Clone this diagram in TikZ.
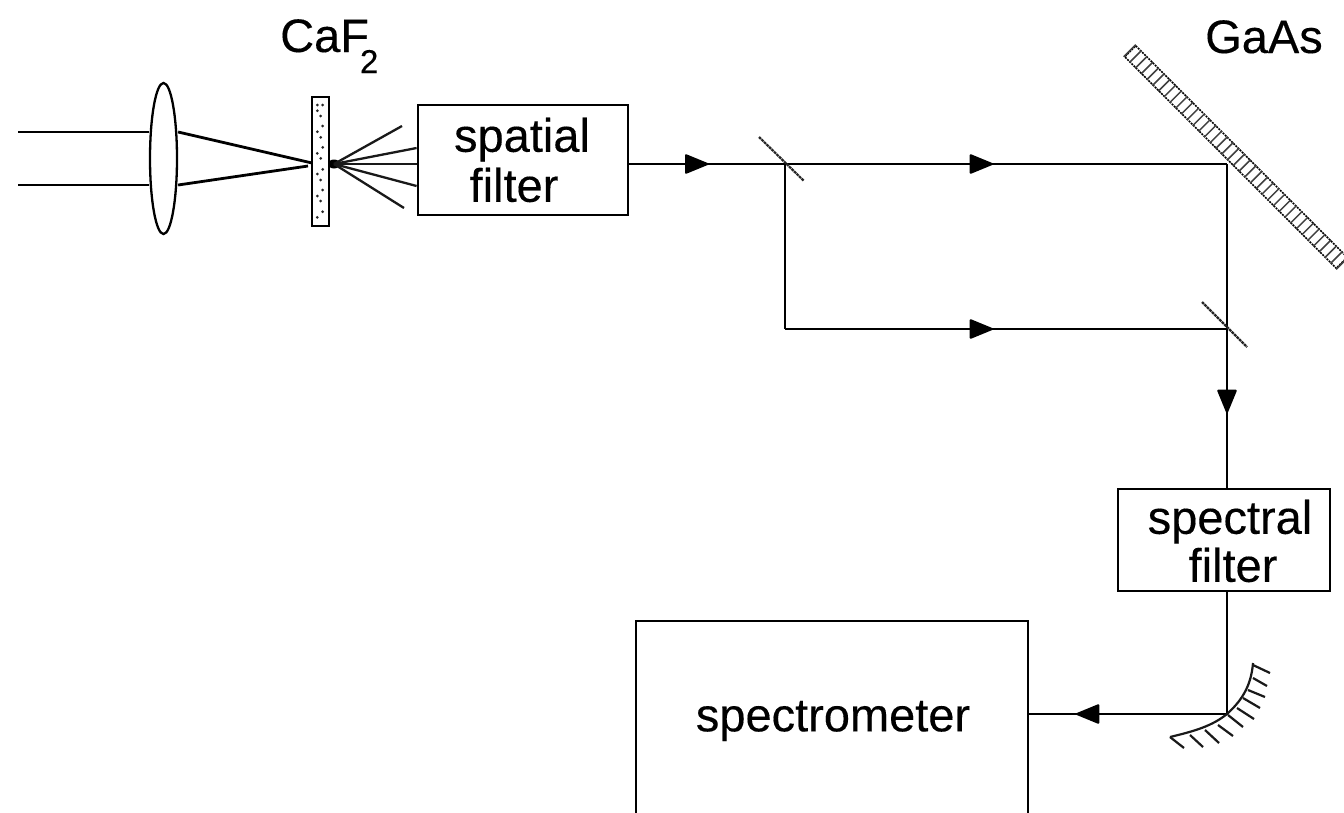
\documentclass[tikz,border=0pt]{standalone}
\usepackage{fontspec}
\setmainfont[FakeBold=0.25]{Liberation Sans}
\usetikzlibrary{shapes.geometric,calc,arrows.meta,decorations.markings}
\tikzset{
  beam/.style={line width=2.8pt,black},
  thin beam/.style={line width=2.3pt,black!90},
  boxnode/.style={draw=black,line width=2.8pt,fill=white,inner sep=0pt,align=center},
  lab/.style={inner sep=0pt,font=\fontsize{47}{49}\selectfont},
  mark at/.style={postaction={decorate,decoration={markings,mark=at position #1 with {\arrow[black,line width=0pt]{Triangle[length=25pt,width=20pt,round,line width=2pt]}}}}},
  split/.style={line width=2.2pt,black!85,dash pattern=on 2.8pt off 0.7pt},
  tick/.style={line width=2.2pt,black!90},
}
\begin{document}
\begin{tikzpicture}[x=1pt,y=-1pt]
\useasboundingbox (0,0) rectangle (1344,812);
\clip (0,0) rectangle (1344,812);
% reference points
\coordinate (inA) at (18,132);
\coordinate (inB) at (18,185);
\coordinate (focA) at (312,163);
\coordinate (focB) at (308,166);
\coordinate (spot) at (334,164);
\coordinate (fanA) at (402,126);
\coordinate (fanE) at (404,208);
\coordinate (s1) at (785,164);
\coordinate (s1a) at (759,137);
\coordinate (s1b) at (804,181);
\coordinate (corner) at (785,329);
\coordinate (gm) at (1227,164);
\coordinate (s2) at (1227,329);
\coordinate (s2a) at (1202,302);
\coordinate (s2b) at (1247,347);
\coordinate (cm) at (1227,714);
% components
\node[ellipse,draw=black,line width=2.3pt,fill=white,minimum width=27pt,minimum height=151pt,inner sep=0pt] (lens) at (163.5,158.5) {};
\node[boxnode,line width=2.3pt,minimum width=17pt,minimum height=129pt] (plate) at (320.5,161.5) {};
\node[boxnode,minimum width=210pt,minimum height=110pt] (sf) at (523,160) {};
\node[lab,align=center] (sflab) at (522,160) {spatial\\[1pt]\hspace*{-16pt}filter};
\node[boxnode,minimum width=212pt,minimum height=102pt] (spf) at (1224,540) {};
\node[lab,align=center] (spflab) at (1230,541) {spectral\\[-1pt]\hspace*{6pt}filter};
\node[boxnode,minimum width=392pt,minimum height=200pt,anchor=north west] (spec) at (634.5,619.5) {};
\node[lab] (speclab) at (833,721) {spectrometer};
\node[lab,anchor=base west] (caf) at (280,52) {CaF\hspace{-9pt}\raisebox{-21pt}{\fontsize{33}{35}\selectfont 2}};
\node[lab,anchor=base west] (gaas) at (1205,53) {GaAs};
\node[draw=black,line width=1.5pt,dash pattern=on 2pt off 1pt,rotate=-45,minimum width=299pt,minimum height=15.5pt,inner sep=0pt,fill=white] (grat) at (1236,157) {};
% rulings of the GaAs mirror
\foreach \t in {0,...,37} {
  \draw[black!75,line width=1.5pt] ($(grat.north west)!\t/37!(grat.north east)$) -- ($(grat.south west)!\t/37!(grat.south east)$);
}
% speckles of the CaF2 plate
\foreach \px/\py in {322.7/105,317.3/105,317.3/110.7,320.7/116,322.7/126,317.3/131.7,320.7/137.3,322.7/147.3,317.3/153.3,320.7/158.3,322.7/169.3,317.3/174,320.7/180,322.7/190,317.3/196,320.7/201,322.7/211.7,317.3/217.3} {
  \fill[black!85] (\px,\py) circle (1.5pt);
}
% beams
\draw[beam] (inA) -- (lens.west |- inA);
\draw[beam] (inB) -- (lens.west |- inB);
\draw[beam] (lens.east |- inA) -- (focA);
\draw[beam] (lens.east |- inB) -- (focB);
\fill[black] (spot) ellipse (6pt and 4.5pt);
\draw[thin beam] (spot) -- (fanA);
\draw[thin beam] (spot) -- (sf.west |- 0,148);
\draw[thin beam] (spot) -- (sf.west |- spot);
\draw[thin beam] (spot) -- (sf.west |- 0,186);
\draw[thin beam] (spot) -- (fanE);
\draw[beam,mark at=79pt] (sf.east |- s1) -- (s1);
\draw[beam,mark at=208pt] (s1) -- (gm);
\draw[beam] (gm) -- (s2);
\draw[beam] (s1) -- (corner);
\draw[beam,mark at=208pt] (corner) -- (s2);
\draw[beam,mark at=84pt] (s2) -- (s2 |- spf.north);
\draw[beam] (s2 |- spf.south) -- (cm);
\draw[beam,mark at=151pt] (cm) -- (spec.east |- cm);
\draw[split] (s1a) -- (s1b);
\draw[split] (s2a) -- (s2b);
% curved mirror
\coordinate (cmA) at (1170,737);
\coordinate (cmB) at (1253,663);
\draw[tick] (cmA) .. controls (1195,731) and (1212,726) .. (cm) .. controls (1240,702) and (1251,688) .. (cmB);
\foreach \ax/\ay/\bx/\by in {1253/665/1270/673,1253/678/1267/686,1248/690/1265/697,1243/698/1260/708,1237/708/1254/719,1228/715/1243/727,1218/725/1233/736,1205/730/1219/743,1190/735/1203/747,1170/737/1184/748} {
  \draw[tick] (\ax,\ay) -- (\bx,\by);
}
\end{tikzpicture}
\end{document}
